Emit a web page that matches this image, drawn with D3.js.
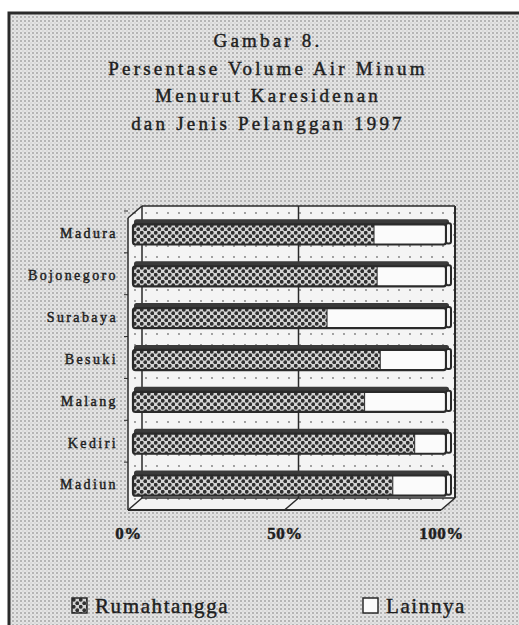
<!DOCTYPE html>
<html>
<head>
<meta charset="utf-8">
<script src="https://cdn.jsdelivr.net/npm/d3@7"></script>
<style>
  body { margin: 0; background: #fff; }
  svg text { font-family: "Liberation Serif", "DejaVu Serif", serif; fill: #1e1e1e; stroke: #1e1e1e; stroke-width: 0.45px; }
</style>
</head>
<body>
<div id="chart"></div>
<script>

// chart data
var titleLines = ['Gambar  8.', 'Persentase Volume Air Minum', 'Menurut Karesidenan', 'dan Jenis Pelanggan  1997'];
var regions = ['Madura', 'Bojonegoro', 'Surabaya', 'Besuki', 'Malang', 'Kediri', 'Madiun'];
var rumahtangga = [77, 78, 62, 79, 74, 90, 83];
var lainnya = [23, 22, 38, 21, 26, 10, 17];
var tickValues = [0, 50, 100];
var tickLabels = ['0%', '50%', '100%'];
var seriesNames = ['Rumahtangga', 'Lainnya'];

// svg container
var width = 519;
var height = 625;

// 3d depth offset of the plot box
var depthX = 14;
var depthY = 12;

var svg = d3.select('#chart').append('svg')
    .attr('width', width)
    .attr('height', height);

var defs = svg.append('defs');

// halftone background
var bgPat = defs.append('pattern')
    .attr('id', 'halftone')
    .attr('width', 4).attr('height', 4)
    .attr('patternUnits', 'userSpaceOnUse');
bgPat.append('rect').attr('width', 4).attr('height', 4).attr('fill', '#e4e4e4');
bgPat.append('circle').attr('cx', 1).attr('cy', 1).attr('r', 1).attr('fill', '#a6a6a6');
bgPat.append('circle').attr('cx', 3).attr('cy', 3).attr('r', 0.7).attr('fill', '#c8c8c8');

// lighter wall
var wallPat = defs.append('pattern')
    .attr('id', 'wall')
    .attr('width', 11).attr('height', 11)
    .attr('patternUnits', 'userSpaceOnUse');
wallPat.append('rect').attr('width', 11).attr('height', 11).attr('fill', '#f4f4f4');
wallPat.append('circle').attr('cx', 3).attr('cy', 4).attr('r', 0.9).attr('fill', '#7a7a7a');

// checked fill for rumahtangga
var barPat = defs.append('pattern')
    .attr('id', 'checks')
    .attr('width', 7).attr('height', 7)
    .attr('patternUnits', 'userSpaceOnUse');
barPat.append('rect').attr('width', 7).attr('height', 7).attr('fill', '#d4d4d4');
barPat.append('circle').attr('cx', 1.75).attr('cy', 1.75).attr('r', 1.9).attr('fill', '#303030');
barPat.append('circle').attr('cx', 5.25).attr('cy', 5.25).attr('r', 1.9).attr('fill', '#303030');

// page frame
svg.append('rect')
    .attr('x', 9).attr('y', 13)
    .attr('width', width + 20).attr('height', height + 20)
    .attr('fill', 'url(#halftone)')
    .attr('stroke', '#2a2a2a')
    .attr('stroke-width', 3);

// title
svg.append('g').selectAll('text')
    .data(titleLines)
    .enter()
    .append('text')
    .attr('x', 268)
    .attr('y', (d, i) => 47 + i * 27.5)
    .attr('text-anchor', 'middle')
    .style('font-size', '19px')
    .style('letter-spacing', '3.2px')
    .text(d => d);

// scales
var xFront = d3.scaleLinear().domain([0, 100]).range([128, 441]);
var xBar = d3.scaleLinear().domain([0, 100]).range([133, 446]);

var yBand = d3.scaleBand()
    .domain(regions)
    .range([211, 504])
    .paddingInner(0.4)
    .paddingOuter(0.2);

var floorY = 510;
var topY = 218;

// walls
var plot = svg.append('g');

plot.append('polygon')
    .attr('points', [
        [xFront(0), floorY], [xFront(0), topY], [xFront(0) + depthX, topY - depthY],
        [xFront(100) + depthX, topY - depthY], [xFront(100) + depthX, floorY - depthY],
        [xFront(100), floorY]
    ].map(p => p.join(',')).join(' '))
    .attr('fill', 'url(#wall)');

var line = (x1, y1, x2, y2, w) => plot.append('line')
    .attr('x1', x1).attr('y1', y1).attr('x2', x2).attr('y2', y2)
    .attr('stroke', '#2a2a2a').attr('stroke-width', w || 1.5);

// back wall outline
line(xFront(0) + depthX, topY - depthY, xFront(100) + depthX, topY - depthY);
line(xFront(100) + depthX, topY - depthY, xFront(100) + depthX, floorY - depthY, 2);
line(xFront(0) + depthX, topY - depthY, xFront(0) + depthX, floorY - depthY);
line(xFront(0) + depthX, floorY - depthY, xFront(100) + depthX, floorY - depthY);
line(xFront(0), topY, xFront(0) + depthX, topY - depthY);

// gridline and floor diagonals
tickValues.forEach(function (v) {
    if (v > 0 && v < 100) line(xFront(v) + depthX, topY - depthY, xFront(v) + depthX, floorY - depthY);
    line(xFront(v), floorY, xFront(v) + depthX, floorY - depthY);
});

// front axes
line(xFront(0), topY, xFront(0), floorY, 1.5);
line(xFront(0), floorY, xFront(100), floorY, 2);

// small ticks between categories
regions.forEach(function (r) {
    var yb = yBand(r) - yBand.step() * yBand.paddingInner() / 2;
    line(xFront(0) - 4, yb, xFront(0), yb, 1);
});

// bars
var bh = yBand.bandwidth();
var topBand = 5;

var bars = plot.selectAll('.bar')
    .data(regions)
    .enter()
    .append('g')
    .attr('class', 'bar');

// top face
bars.append('rect')
    .attr('x', xBar(0) + 1)
    .attr('y', d => yBand(d))
    .attr('width', xBar(100) - xBar(0) + 2)
    .attr('height', topBand + 1)
    .attr('rx', 2.5)
    .attr('fill', '#3a3a3a');

// rumahtangga face
bars.append('rect')
    .attr('x', xBar(0))
    .attr('y', d => yBand(d) + topBand)
    .attr('width', (d, i) => xBar(rumahtangga[i]) - xBar(0))
    .attr('height', bh - topBand)
    .attr('fill', 'url(#checks)');

// lainnya face
bars.append('rect')
    .attr('x', (d, i) => xBar(rumahtangga[i]))
    .attr('y', d => yBand(d) + topBand)
    .attr('width', (d, i) => xBar(rumahtangga[i] + lainnya[i]) - xBar(rumahtangga[i]))
    .attr('height', bh - topBand)
    .attr('fill', '#fbfbfb');

// outline of the front face
bars.append('rect')
    .attr('x', xBar(0))
    .attr('y', d => yBand(d) + topBand)
    .attr('width', xBar(100) - xBar(0))
    .attr('height', bh - topBand)
    .attr('rx', 2.5)
    .attr('fill', 'none')
    .attr('stroke', '#2a2a2a')
    .attr('stroke-width', 2.2);

// divider
bars.append('line')
    .attr('x1', (d, i) => xBar(rumahtangga[i]))
    .attr('x2', (d, i) => xBar(rumahtangga[i]))
    .attr('y1', d => yBand(d) + topBand)
    .attr('y2', d => yBand(d) + bh)
    .attr('stroke', '#2a2a2a')
    .attr('stroke-width', 1);

// end cap
bars.append('rect')
    .attr('x', xBar(100))
    .attr('y', d => yBand(d) + topBand - 1)
    .attr('width', 5)
    .attr('height', bh - topBand)
    .attr('rx', 2)
    .attr('fill', '#f4f4f4')
    .attr('stroke', '#2a2a2a')
    .attr('stroke-width', 2);

// category labels
var yAxis = d3.axisLeft(yBand).tickSize(0).tickPadding(10);
var yAxisG = svg.append('g')
    .attr('transform', `translate(${xFront(0)}, 0)`)
    .call(yAxis);
yAxisG.select('.domain').remove();
yAxisG.selectAll('text')
    .attr('dy', '0.45em')
    .style('font-size', '14px')
    .style('letter-spacing', '2.4px')
    .style('fill', '#1e1e1e')
    .style('font-family', '"Liberation Serif", serif');

// percent labels
var xAxis = d3.axisBottom(xFront)
    .tickValues(tickValues)
    .tickFormat((d, i) => tickLabels[i])
    .tickSize(0)
    .tickPadding(17);
var xAxisG = svg.append('g')
    .attr('transform', `translate(0, ${floorY})`)
    .call(xAxis);
xAxisG.select('.domain').remove();
xAxisG.selectAll('text')
    .style('font-size', '17px')
    .style('font-weight', 'bold')
    .style('letter-spacing', '0.5px')
    .style('fill', '#1e1e1e')
    .style('font-family', '"Liberation Serif", serif');

// legend
var legendX = [72, 363];
var legendFill = ['url(#checks)', '#fbfbfb'];
var legend = svg.selectAll('.legend')
    .data(seriesNames)
    .enter()
    .append('g')
    .attr('class', 'legend')
    .attr('transform', (d, i) => `translate(${legendX[i]}, 598)`);

legend.append('rect')
    .attr('width', 15)
    .attr('height', 15)
    .attr('fill', (d, i) => legendFill[i])
    .attr('stroke', '#2a2a2a')
    .attr('stroke-width', 1.5);

legend.append('text')
    .attr('x', 23)
    .attr('y', 15)
    .style('font-size', '21px')
    .style('letter-spacing', '1.6px')
    .text(d => d);

</script>
</body>
</html>
